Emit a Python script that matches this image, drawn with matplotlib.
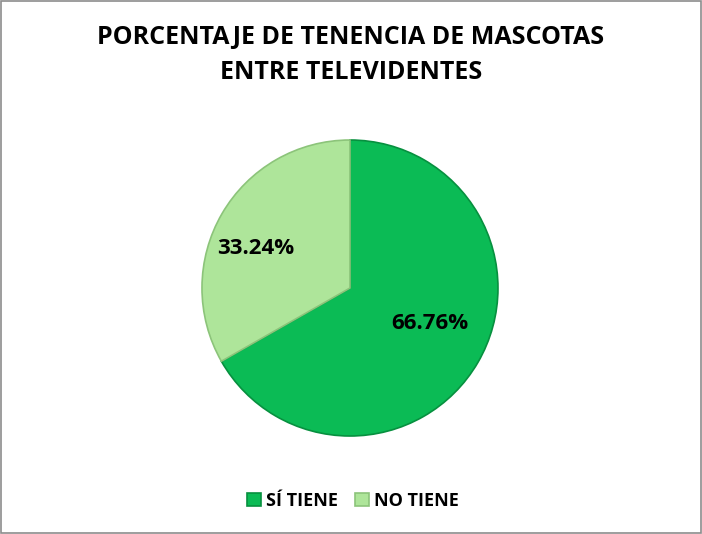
import matplotlib.pyplot as plt
from matplotlib.patches import Rectangle

categorias = ['SÍ TIENE', 'NO TIENE']
porcentajes = [66.76, 33.24]
colores = ['#0BBB55', '#AEE59A']
bordes = ['#07903F', '#8CC47A']

plt.rcParams['font.family'] = ['Open Sans', 'DejaVu Sans']

fig = plt.figure(figsize=(7.02, 5.34), dpi=100)
fig.patch.set_facecolor('white')

# marco gris del grafico
fig.patches.append(Rectangle((0.001, 0.002), 0.997, 0.996, transform=fig.transFigure,
                             fill=False, edgecolor='#8C8C8C', linewidth=1.2))

fig.text(0.5, 0.897, 'PORCENTAJE DE TENENCIA DE MASCOTAS\nENTRE TELEVIDENTES',
         ha='center', va='center', fontsize=18, fontweight='bold', linespacing=1.55)

ax = fig.add_axes([0.2877, 0.1835, 0.4217, 0.5543])
wedges, textos, pcts = ax.pie(porcentajes, colors=colores, startangle=90, counterclock=False,
                              autopct='%.2f%%', pctdistance=0.6,
                              wedgeprops={'linewidth': 1.2},
                              textprops={'fontsize': 16, 'fontweight': 'bold'})
for w, b in zip(wedges, bordes):
    w.set_edgecolor(b)
pcts[0].set_position((0.54, -0.24))
pcts[1].set_position((-0.64, 0.27))
ax.set_xlim(-1.0, 1.0)
ax.set_ylim(-1.0, 1.0)
ax.set_aspect('equal')

ley = fig.legend(wedges, categorias, loc='center', bbox_to_anchor=(0.503, 0.062), ncol=2,
                 frameon=False, handlelength=0.75, handleheight=0.75, handletextpad=0.3,
                 columnspacing=0.95, prop={'size': 13, 'weight': 'bold'})

fig.savefig('out.png', dpi=100)
